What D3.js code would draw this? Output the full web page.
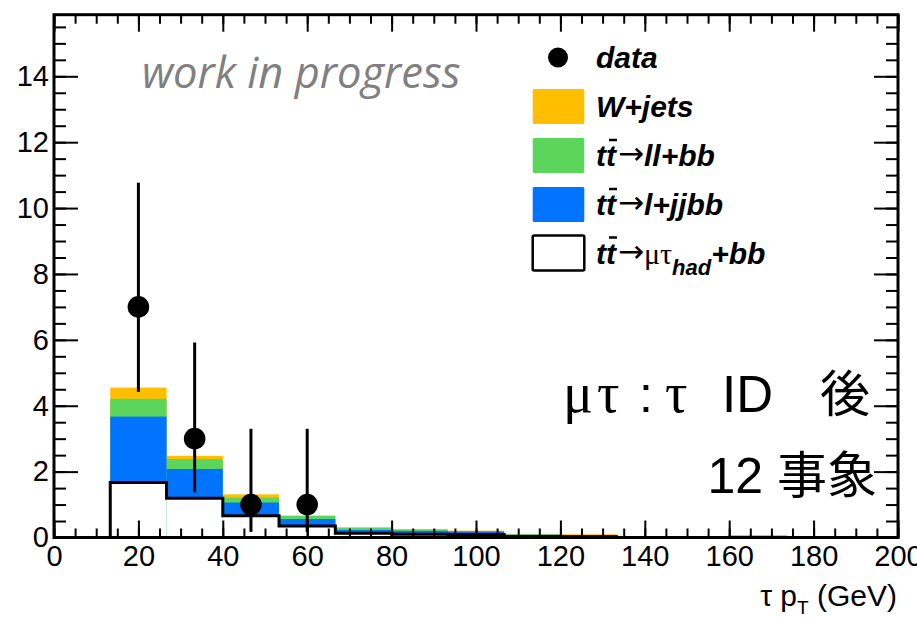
<!DOCTYPE html>
<html>
<head>
<meta charset="utf-8">
<script src="https://cdn.jsdelivr.net/npm/d3@7"></script>
<style>
  body { margin: 0; background: #fff; }
  svg { display: block; }
</style>
</head>
<body>
<div id="chart"></div>
<script>
// bins of tau pT (GeV), 15 bins from 0 to 200
const binLow  = [0, 13.33, 26.67, 40, 53.33, 66.67, 80, 93.33, 106.67, 120, 133.33, 146.67, 160, 173.33, 186.67];
const binHigh = [13.33, 26.67, 40, 53.33, 66.67, 80, 93.33, 106.67, 120, 133.33, 146.67, 160, 173.33, 186.67, 200];

// stacked MC contributions, bottom to top
const muTau = [0, 1.67, 1.19, 0.66, 0.35, 0.13, 0.10, 0.09, 0.03, 0.02, 0, 0, 0.01, 0, 0];
const lJJ   = [0, 2.00, 0.89, 0.40, 0.21, 0.10, 0.10, 0.09, 0.05, 0.05, 0, 0.02, 0.02, 0, 0];
const llBB  = [0, 0.54, 0.30, 0.15, 0.10, 0.07, 0.03, 0.01, 0.02, 0, 0, 0.01, 0, 0, 0];
const wJets = [0, 0.34, 0.10, 0.10, 0, 0, 0.03, 0.02, 0, 0.03, 0, 0, 0, 0, 0.02];

// data points with asymmetric (Poisson) errors
const dataX   = [20, 33.33, 46.67, 60];
const dataY   = [7, 3, 1, 1];
const dataLow = [4.42, 1.37, 0.17, 0.17];
const dataUp  = [10.77, 5.92, 3.30, 3.30];

const xTicks = [0, 20, 40, 60, 80, 100, 120, 140, 160, 180, 200];
const yTicks = [0, 2, 4, 6, 8, 10, 12, 14];

const W = 917, H = 617;
const frame = { left: 54, right: 898, top: 14.7, bottom: 537.5 };

const svg = d3.select("#chart").append("svg")
  .attr("width", W)
  .attr("height", H);

const x = d3.scaleLinear().domain([0, 200]).range([frame.left, frame.right]);
const y = d3.scaleLinear().domain([0, 15.87]).range([frame.bottom, frame.top]);

const keys = ["muTau", "lJJ", "llBB", "wJets"];
const colors = { muTau: "#ffffff", lJJ: "#0073ff", llBB: "#5bd55b", wJets: "#ffbf00" };

const rows = binLow.map((lo, i) => ({
  lo: lo, hi: binHigh[i],
  muTau: muTau[i], lJJ: lJJ[i], llBB: llBB[i], wJets: wJets[i]
}));

const layers = d3.stack().keys(keys)(rows);

// draw the cumulative histograms from the top of the stack down
const hist = svg.append("g");
layers.slice().reverse().forEach(layer => {
  hist.selectAll(null)
    .data(layer.filter(d => d[1] > 0))
    .enter()
    .append("rect")
    .attr("x", d => x(d.data.lo))
    .attr("width", d => x(d.data.hi) - x(d.data.lo))
    .attr("y", d => y(d[1]))
    .attr("height", d => y(0) - y(d[1]))
    .attr("fill", colors[layer.key]);
});

// black outline of the lowest histogram
const stepPts = [[0, 0]];
rows.forEach(r => stepPts.push([r.lo, r.muTau]));
stepPts.push([200, rows[rows.length - 1].muTau]);
stepPts.push([200, 0]);

hist.append("path")
  .attr("d", d3.line().x(d => x(d[0])).y(d => y(d[1])).curve(d3.curveStepAfter)(stepPts))
  .attr("fill", "none")
  .attr("stroke", "#000")
  .attr("stroke-width", 3);

// axes: ticks on all four sides
const tickFont = "Liberation Sans, Arial, Helvetica, sans-serif";

function styleAxis(g) {
  g.select(".domain").remove();
  g.selectAll(".tick line").attr("stroke", "#000").attr("stroke-width", 2);
  g.selectAll("text").attr("fill", "#000").style("font-size", "29px").style("font-family", tickFont);
}

svg.append("g").attr("transform", `translate(0,${frame.bottom})`)
  .call(d3.axisBottom(x).tickValues(xTicks).tickSize(-17).tickPadding(8).tickFormat(d3.format("d")))
  .call(styleAxis);
svg.append("g").attr("transform", `translate(0,${frame.bottom})`)
  .call(d3.axisBottom(x).tickValues(x.ticks(40)).tickSize(-9).tickFormat(""))
  .call(styleAxis);
svg.append("g").attr("transform", `translate(0,${frame.top})`)
  .call(d3.axisTop(x).tickValues(xTicks).tickSize(-17).tickFormat(""))
  .call(styleAxis);
svg.append("g").attr("transform", `translate(0,${frame.top})`)
  .call(d3.axisTop(x).tickValues(x.ticks(40)).tickSize(-9).tickFormat(""))
  .call(styleAxis);

svg.append("g").attr("transform", `translate(${frame.left},0)`)
  .call(d3.axisLeft(y).tickValues(yTicks).tickSize(-24).tickPadding(5).tickFormat(d3.format("d")))
  .call(styleAxis);
svg.append("g").attr("transform", `translate(${frame.left},0)`)
  .call(d3.axisLeft(y).tickValues(y.ticks(32)).tickSize(-12).tickFormat(""))
  .call(styleAxis);
svg.append("g").attr("transform", `translate(${frame.right},0)`)
  .call(d3.axisRight(y).tickValues(yTicks).tickSize(-24).tickFormat(""))
  .call(styleAxis);
svg.append("g").attr("transform", `translate(${frame.right},0)`)
  .call(d3.axisRight(y).tickValues(y.ticks(32)).tickSize(-12).tickFormat(""))
  .call(styleAxis);

svg.append("rect")
  .attr("x", frame.left).attr("y", frame.top)
  .attr("width", frame.right - frame.left)
  .attr("height", frame.bottom - frame.top)
  .attr("fill", "none")
  .attr("stroke", "#000")
  .attr("stroke-width", 3);

// data points
const pts = dataX.map((v, i) => ({ x: v, y: dataY[i], lo: dataLow[i], up: dataUp[i] }));
const dataG = svg.append("g");
dataG.selectAll("line")
  .data(pts)
  .enter()
  .append("line")
  .attr("x1", d => x(d.x)).attr("x2", d => x(d.x))
  .attr("y1", d => y(d.lo)).attr("y2", d => y(d.up))
  .attr("stroke", "#000")
  .attr("stroke-width", 3);
dataG.selectAll("circle")
  .data(pts)
  .enter()
  .append("circle")
  .attr("cx", d => x(d.x))
  .attr("cy", d => y(d.y))
  .attr("r", 10.8)
  .attr("fill", "#000");

// axis title
const xt = svg.append("text")
  .attr("x", 897).attr("y", 606)
  .attr("text-anchor", "end")
  .style("font-family", tickFont)
  .style("font-size", "30px");
xt.append("tspan").text("τ p");
xt.append("tspan").attr("dy", 8).style("font-size", "19px").text("T");
xt.append("tspan").attr("dy", -8).text(" (GeV)");

// work in progress
svg.append("text")
  .attr("x", 142).attr("y", 88)
  .style("font-family", "Open Sans, sans-serif")
  .style("font-style", "italic")
  .style("font-size", "43.5px")
  .attr("fill", "#808080")
  .text("work in progress");

// big labels on the right
const cjk = "Noto Sans CJK JP, sans-serif";
const serif = "Liberation Serif, Times New Roman, serif";
const big = svg.append("g")
  .style("font-family", tickFont)
  .style("font-size", "50px");
big.append("text").attr("x", 563).attr("y", 412).style("font-family", serif).style("font-size", "56px")
  .style("letter-spacing", "4px").text("μτ");
big.append("text").attr("x", 639).attr("y", 412).text(":");
big.append("text").attr("x", 665).attr("y", 412).style("font-family", serif).style("font-size", "56px").text("τ");
big.append("text").attr("x", 722).attr("y", 412).style("font-size", "51px").text("ID");
big.append("text").attr("x", 870).attr("y", 412).attr("text-anchor", "end").style("font-family", cjk).text("後");

const t2 = svg.append("text")
  .attr("x", 877).attr("y", 493)
  .attr("text-anchor", "end")
  .style("font-family", tickFont)
  .style("font-size", "50px");
t2.append("tspan").text("12 ");
t2.append("tspan").style("font-family", cjk).text("事象");

// legend
const legRowY = [57.5, 106.5, 155.5, 204.5, 253];
const legend = svg.append("g");
const boxX = 532.7, boxW = 51.6, boxH = 35, textX = 596;

legend.append("circle").attr("cx", 558).attr("cy", legRowY[0]).attr("r", 10).attr("fill", "#000");

[["wJets", 1], ["llBB", 2], ["lJJ", 3], ["muTau", 4]].forEach(([k, r]) => {
  legend.append("rect")
    .attr("x", boxX).attr("y", legRowY[r] - boxH / 2)
    .attr("width", boxW).attr("height", boxH)
    .attr("rx", 1.5)
    .attr("fill", colors[k])
    .attr("stroke", k === "muTau" ? "#000" : "none")
    .attr("stroke-width", 2.5);
});

function legText(row) {
  return legend.append("text")
    .attr("x", textX).attr("y", legRowY[row] + 10.5)
    .style("font-family", tickFont)
    .style("font-size", "30px")
    .style("font-weight", "bold")
    .style("font-style", "italic");
}

legText(0).text("data");
legText(1).text("W+jets");

function ttbar(row, rest) {
  const t = legText(row);
  t.append("tspan").text("tt");
  t.append("tspan")
    .style("font-family", "DejaVu Sans, sans-serif").style("font-weight", "normal").style("font-style", "normal")
    .style("font-size", "31px")
    .attr("dx", 2).attr("dy", -2)
    .text("→");
  rest(t);
  // bar over the second t
  const ext = t.node().getExtentOfChar(1);
  legend.append("line")
    .attr("x1", ext.x + 3).attr("x2", ext.x + ext.width + 1)
    .attr("y1", legRowY[row] - 15.5).attr("y2", legRowY[row] - 15.5)
    .attr("stroke", "#000").attr("stroke-width", 2.5);
}

ttbar(2, t => t.append("tspan").attr("dy", 2).text("ll+bb"));
ttbar(3, t => t.append("tspan").attr("dy", 2).text("l+jjbb"));
ttbar(4, t => {
  t.append("tspan")
    .style("font-family", serif).style("font-weight", "normal").style("font-style", "normal")
    .attr("dy", 2)
    .text("μτ");
  t.append("tspan").attr("dy", 11).style("font-size", "22px").text("had");
  t.append("tspan").attr("dy", -11).text("+bb");
});
</script>
</body>
</html>
